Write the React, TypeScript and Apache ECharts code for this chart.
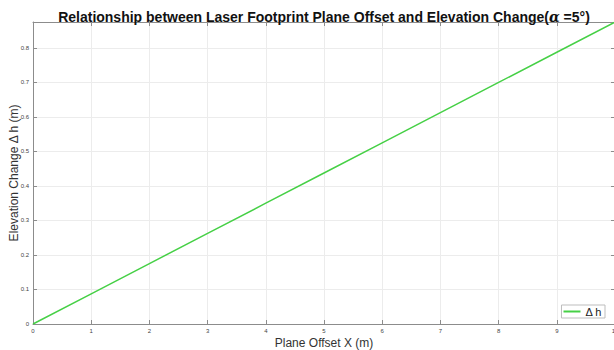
import React, { useEffect, useRef } from "react";
import * as echarts from "echarts";

const xValues = [0, 1, 2, 3, 4, 5, 6, 7, 8, 9, 10];
const dhValues = [0, 0.0875, 0.175, 0.2625, 0.35, 0.4374, 0.5249, 0.6124, 0.6999, 0.7874, 0.8749];
const seriesName = "Δ h";
const xTickLabels = ["0", "1", "2", "3", "4", "5", "6", "7", "8", "9", "10"];

export default function App() {
  const ref = useRef<HTMLDivElement>(null);
  useEffect(() => {
    document.body.style.margin = "0";
    const chart = echarts.init(ref.current!, undefined, { renderer: "svg" });
    const font = "Liberation Sans, Arial, sans-serif";
    const axisLineColor = "#8c8c8c";
    chart.setOption({
      animation: false,
      backgroundColor: "#ffffff",
      textStyle: { fontFamily: font },
      title: {
        text: "{b|Relationship between Laser Footprint Plane Offset and Elevation Change(}{a|α}{b| =5°)}",
        left: 319,
        textAlign: "center",
        top: 5,
        textStyle: {
          rich: {
            b: { fontSize: 14, fontWeight: "bold", color: "#111", fontFamily: font },
            a: { fontSize: 14, fontStyle: "italic", color: "#111", fontFamily: "DejaVu Serif, serif" },
          },
        },
      },
      grid: { left: 33, top: 22, width: 582, height: 302, containLabel: false, outerBoundsMode: "none" },
      legend: {
        right: 9,
        top: 305,
        orient: "vertical",
        backgroundColor: "#fff",
        borderColor: "#bdbdbd",
        borderWidth: 1,
        padding: [1, 3, 1, 2],
        itemWidth: 17,
        itemHeight: 2,
        itemGap: 2,
        textStyle: { fontSize: 11, color: "#222", fontFamily: font },
        data: [{ name: seriesName, icon: "rect" }],
      },
      xAxis: [
        {
          type: "value",
          min: 0,
          max: 10,
          interval: 1,
          name: "Plane Offset X (m)",
          nameLocation: "middle",
          nameGap: 13,
          nameMoveOverlap: false,
          nameTextStyle: { fontSize: 12, color: "#333", fontFamily: font },
          axisLine: { show: true, lineStyle: { color: axisLineColor, width: 1 } },
          axisTick: { show: true, inside: true, length: 4, lineStyle: { color: axisLineColor } },
          axisLabel: {
            fontSize: 6,
            color: "#444",
            margin: 4,
            formatter: (v: number) => xTickLabels[Math.round(v)] ?? "",
          },
          splitLine: { show: true, lineStyle: { color: "#ececec", width: 1 } },
        },
        {
          type: "value",
          position: "top",
          min: 0,
          max: 10,
          interval: 1,
          axisLine: { show: true, onZero: false, lineStyle: { color: axisLineColor, width: 1 } },
          axisTick: { show: true, inside: true, length: 4, lineStyle: { color: axisLineColor } },
          axisLabel: { show: false },
          splitLine: { show: false },
        },
      ],
      yAxis: [
        {
          type: "value",
          min: 0,
          max: 0.875,
          interval: 0.1,
          name: "Elevation Change Δ h (m)",
          nameLocation: "middle",
          nameGap: 13,
          nameMoveOverlap: false,
          nameTextStyle: { fontSize: 12, color: "#333", fontFamily: font },
          axisLine: { show: true, lineStyle: { color: axisLineColor, width: 1 } },
          axisTick: { show: true, inside: true, length: 4, lineStyle: { color: axisLineColor } },
          axisLabel: {
            fontSize: 6,
            color: "#444",
            margin: 4,
            formatter: (v: number) => (v > 0.86 ? "" : String(Math.round(v * 10) / 10)),
          },
          splitLine: { show: true, lineStyle: { color: "#ececec", width: 1 } },
        },
        {
          type: "value",
          position: "right",
          min: 0,
          max: 0.875,
          interval: 0.1,
          axisLine: { show: true, onZero: false, lineStyle: { color: axisLineColor, width: 1 } },
          axisTick: { show: true, inside: true, length: 4, lineStyle: { color: axisLineColor } },
          axisLabel: { show: false },
          splitLine: { show: false },
        },
      ],
      series: [
        {
          name: seriesName,
          type: "line",
          symbol: "none",
          data: xValues.map((x, i) => [x, dhValues[i]]),
          lineStyle: { color: "#46d046", width: 1.5 },
          itemStyle: { color: "#46d046" },
        },
      ],
    });
    return () => chart.dispose();
  }, []);
  return <div ref={ref} style={{ width: 614, height: 350 }} />;
}
